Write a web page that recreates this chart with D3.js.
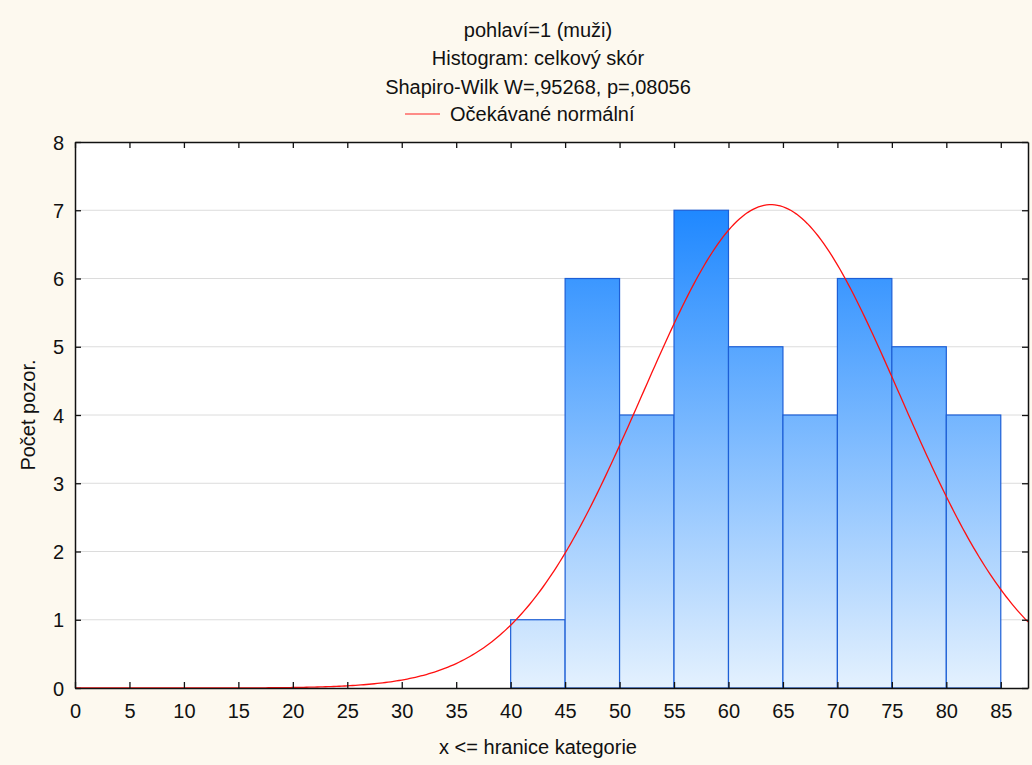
<!DOCTYPE html>
<html>
<head>
<meta charset="utf-8">
<script src="https://cdn.jsdelivr.net/npm/d3@7"></script>
<style>
  body { margin: 0; background: #fdf9ef; }
  text { font-family: "Liberation Sans", Arial, sans-serif; fill: #111; }
</style>
</head>
<body>
<div id="chart"></div>
<script>
// histogram bins (lower edge, upper edge) and counts
var binStarts = [40, 45, 50, 55, 60, 65, 70, 75, 80];
var binWidth = 5;
var counts = [1, 6, 4, 7, 5, 4, 6, 5, 4];
var xTicks = [0, 5, 10, 15, 20, 25, 30, 35, 40, 45, 50, 55, 60, 65, 70, 75, 80, 85];
var yTicks = [0, 1, 2, 3, 4, 5, 6, 7, 8];
var titleLines = ["pohlaví=1 (muži)", "Histogram: celkový skór", "Shapiro-Wilk W=,95268, p=,08056"];
// fitted normal (sample mean / sd)
var fitMean = 63.9, fitSd = 11.83;

var width = 1032, height = 765;
var margin = { top: 142, right: 4, bottom: 77, left: 75 };
var w = width - margin.left - margin.right,
  h = height - margin.top - margin.bottom;
var fs = "20px";

var svg = d3.select("#chart").append("svg")
  .attr("width", width)
  .attr("height", height);

var defs = svg.append("defs");
defs.append("clipPath").attr("id", "plotclip")
  .append("rect").attr("width", w).attr("height", h);

var x = d3.scaleLinear().domain([0, 87.5]).range([0, w]);
var y = d3.scaleLinear().domain([0, 8]).range([h, 0]);

// one gradient for all bars, tied to the plot height
var grad = defs.append("linearGradient")
  .attr("id", "barGrad")
  .attr("gradientUnits", "userSpaceOnUse")
  .attr("x1", 0).attr("x2", 0)
  .attr("y1", y(7)).attr("y2", y(0));
grad.append("stop").attr("offset", "0%").attr("stop-color", "#1f88ff");
grad.append("stop").attr("offset", "100%").attr("stop-color", "#e4f1fe");

// titles
svg.selectAll("text.title").data(titleLines).enter()
  .append("text")
  .attr("class", "title")
  .attr("x", 538)
  .attr("y", function (d, i) { return 37 + i * 28.3; })
  .attr("text-anchor", "middle")
  .style("font-size", fs)
  .text(function (d) { return d; });

// legend
svg.append("line")
  .attr("x1", 405).attr("x2", 440)
  .attr("y1", 114).attr("y2", 114)
  .attr("stroke", "#ff2020").attr("stroke-width", 1.2);
svg.append("text")
  .attr("x", 450).attr("y", 121)
  .style("font-size", fs)
  .text("Očekávané normální");

var g = svg.append("g")
  .attr("transform", "translate(" + margin.left + "," + margin.top + ")");

g.append("rect").attr("width", w).attr("height", h).attr("fill", "#fff");

// grid
g.selectAll("line.grid").data(yTicks.slice(1, -1)).enter()
  .append("line")
  .attr("x1", 0).attr("x2", w)
  .attr("y1", function (d) { return y(d); })
  .attr("y2", function (d) { return y(d); })
  .attr("stroke", "#dcdcdc").attr("stroke-width", 1);

// bars
g.selectAll("rect.bar").data(counts).enter()
  .append("rect")
  .attr("class", "bar")
  .attr("x", function (d, i) { return x(binStarts[i]); })
  .attr("y", function (d) { return y(d); })
  .attr("width", function (d, i) { return x(binStarts[i] + binWidth) - x(binStarts[i]); })
  .attr("height", function (d) { return h - y(d); })
  .attr("fill", "url(#barGrad)")
  .attr("stroke", "#1d5fd6")
  .attr("stroke-width", 1.2);

// expected normal curve
var total = d3.sum(counts);
var curvePts = d3.range(0, 87.6, 0.25).map(function (v) {
  var z = (v - fitMean) / fitSd;
  return [v, total * binWidth / (fitSd * Math.sqrt(2 * Math.PI)) * Math.exp(-0.5 * z * z)];
});
g.append("path")
  .datum(curvePts)
  .attr("clip-path", "url(#plotclip)")
  .attr("fill", "none")
  .attr("stroke", "#ff1010")
  .attr("stroke-width", 1.3)
  .attr("d", d3.line()
    .x(function (d) { return x(d[0]); })
    .y(function (d) { return y(d[1]); }));

// axes with inward ticks
var xAxis = g.append("g")
  .attr("transform", "translate(0," + h + ")")
  .call(d3.axisBottom(x).tickValues(xTicks).tickSizeInner(-6).tickSizeOuter(0).tickPadding(16));
var xTop = g.append("g")
  .call(d3.axisTop(x).tickValues(xTicks).tickSizeInner(-6).tickSizeOuter(0).tickFormat(""));
var yAxis = g.append("g")
  .call(d3.axisLeft(y).tickValues(yTicks).tickSizeInner(-6).tickSizeOuter(0).tickPadding(11));
var yRight = g.append("g")
  .attr("transform", "translate(" + w + ",0)")
  .call(d3.axisRight(y).tickValues(yTicks).tickSizeInner(-6).tickSizeOuter(0).tickFormat(""));

[xAxis, xTop, yAxis, yRight].forEach(function (a) {
  a.select(".domain").attr("stroke", "#111").attr("stroke-width", 1.5);
  a.selectAll(".tick line").attr("stroke", "#111").attr("stroke-width", 1.3);
  a.selectAll(".tick text").style("font-size", fs)
    .style("font-family", "'Liberation Sans', Arial, sans-serif").attr("fill", "#111");
});
yAxis.selectAll(".tick text").attr("dy", "0.36em");

// axis titles
svg.append("text")
  .attr("transform", "translate(35," + (margin.top + h / 2) + ") rotate(-90)")
  .attr("text-anchor", "middle")
  .style("font-size", fs)
  .text("Počet pozor.");
svg.append("text")
  .attr("x", 538).attr("y", 754)
  .attr("text-anchor", "middle")
  .style("font-size", fs)
  .text("x <= hranice kategorie");
</script>
</body>
</html>
